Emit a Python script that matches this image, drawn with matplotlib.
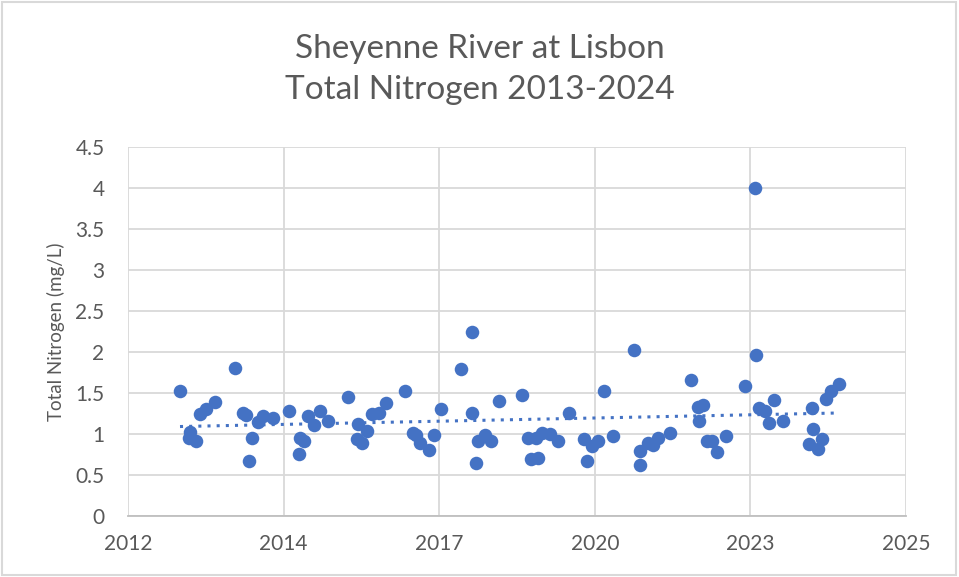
import numpy as np
import matplotlib
matplotlib.use("Agg")
import matplotlib.pyplot as plt
import matplotlib.dates as mdates
from matplotlib.patches import Rectangle

plt.rcParams["font.family"] = ["Lato", "DejaVu Sans"]

# sample dates and total nitrogen (mg/L)
dates = np.array([
    "2013-03-01", "2013-05-02", "2013-04-28", "2013-06-15", "2013-07-06", "2013-08-14", "2013-10-11",
    "2014-02-16", "2014-04-10", "2014-04-28", "2014-06-10", "2014-05-19", "2014-07-14", "2014-08-18",
    "2014-10-21", "2015-01-30", "2015-04-10", "2015-05-05", "2015-04-03", "2015-06-02", "2015-07-10",
    "2015-08-16", "2015-10-09", "2016-02-15", "2016-04-19", "2016-04-09", "2016-05-17", "2016-06-12",
    "2016-07-14", "2016-09-02", "2016-10-15", "2017-02-15", "2017-04-08", "2017-04-29", "2017-05-20",
    "2017-07-19", "2017-08-21", "2017-10-03", "2018-02-10", "2018-04-18", "2018-04-24", "2018-05-19",
    "2018-05-30", "2018-07-12", "2018-08-20", "2018-10-12", "2019-03-11", "2019-04-16", "2019-05-08",
    "2019-06-09", "2019-06-20", "2019-07-17", "2019-09-03", "2019-10-27", "2020-01-04", "2020-04-09",
    "2020-04-26", "2020-05-28", "2020-07-10", "2020-08-18", "2020-10-15", "2021-02-26", "2021-04-02",
    "2021-04-06", "2021-05-26", "2021-06-28", "2021-07-30", "2021-10-14", "2022-02-27", "2022-04-13",
    "2022-04-17", "2022-05-15", "2022-06-06", "2022-07-12", "2022-08-14", "2022-10-09", "2023-02-09",
    "2023-04-12", "2023-04-23", "2023-05-08", "2023-06-16", "2023-07-13", "2023-08-15", "2023-10-12",
    "2024-04-12", "2024-04-18", "2024-03-25", "2024-05-24", "2024-06-18", "2024-07-10", "2024-08-12",
    "2024-10-04",
], dtype="datetime64[D]")
tn = np.array([
    1.52, 1.03, 0.95, 0.91, 1.25, 1.30, 1.39,
    1.81, 1.26, 1.23, 0.95, 0.67, 1.15, 1.22,
    1.20, 1.28, 0.95, 0.91, 0.76, 1.22, 1.11,
    1.28, 1.16, 1.45, 1.12, 0.94, 0.89, 1.04,
    1.24, 1.26, 1.38, 1.52, 1.01, 0.99, 0.89,
    0.80, 0.99, 1.30, 1.79, 2.25, 1.26, 0.65,
    0.92, 0.99, 0.91, 1.40, 1.48, 0.95, 0.69,
    0.95, 0.71, 1.01, 1.00, 0.92, 1.26, 0.94,
    0.67, 0.85, 0.92, 1.53, 0.97, 2.02, 0.79,
    0.62, 0.89, 0.87, 0.95, 1.01, 1.66, 1.33,
    1.16, 1.35, 0.92, 0.91, 0.78, 0.97, 1.59,
    4.00, 1.96, 1.32, 1.28, 1.13, 1.41, 1.16,
    1.32, 1.06, 0.88, 0.82, 0.94, 1.43, 1.52,
    1.61,
])

blue = "#4472C4"
gray = "#595959"

fig = plt.figure(figsize=(9.59, 5.77), dpi=100)
ax = fig.add_axes([0.1335, 0.1057, 0.8112, 0.6395])

ax.scatter(dates, tn, s=95, color=blue, zorder=3, linewidths=0)

# linear trendline
xn = mdates.date2num(dates)
k, c = np.polyfit(xn, tn, 1)
xt = np.array([xn.min(), xn.max()])
ax.plot(mdates.num2date(xt), k * xt + c, color=blue, lw=2.2, ls=(0, (1, 2.0)), zorder=2)

start = np.datetime64("2012-04-01")
ticks = [start + np.timedelta64(1000 * i, "D") for i in range(6)]
ax.set_xlim(ticks[0], ticks[-1])
ax.set_xticks(ticks)
ax.xaxis.set_major_formatter(mdates.DateFormatter("%Y"))
ax.set_ylim(0, 4.5)
ax.set_yticks(np.arange(0, 4.51, 0.5))
ax.set_yticklabels(["0", "0.5", "1", "1.5", "2", "2.5", "3", "3.5", "4", "4.5"])

ax.grid(True, color="#d9d9d9", lw=1.3)
ax.set_axisbelow(True)
for s in ["top", "right", "left"]:
    ax.spines[s].set_visible(False)
ax.spines["bottom"].set_color("#bfbfbf")
ax.spines["bottom"].set_linewidth(1.3)
ax.tick_params(length=0, labelsize=15, colors=gray)
ax.tick_params(axis="y", pad=17)
ax.tick_params(axis="x", pad=13)

ax.set_ylabel("Total Nitrogen (mg/L)", fontsize=13.5, color=gray, va="center")
ax.yaxis.set_label_coords(-0.0925, 0.5)
fig.text(0.5, 0.879, "Sheyenne River at Lisbon\nTotal Nitrogen 2013-2024",
         ha="center", va="center", fontsize=24, color=gray, linespacing=1.45)

fig.patches.append(Rectangle((0.002, 0.003), 0.995, 0.993, transform=fig.transFigure,
                             fill=False, edgecolor="#d9d9d9", lw=1.5))

fig.savefig("out.png", dpi=100)
